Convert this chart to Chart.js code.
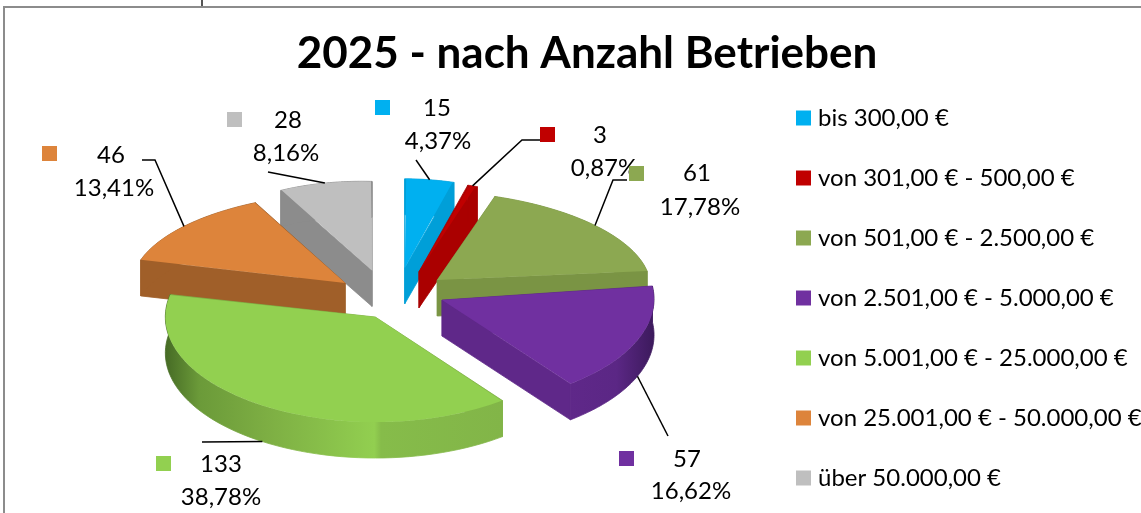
<!DOCTYPE html>
<html lang="de">
<head>
<meta charset="utf-8">
<title>2025 - nach Anzahl Betrieben</title>
<script src="https://cdn.jsdelivr.net/npm/chart.js@4/dist/chart.umd.min.js"></script>
<style>
  html, body { margin: 0; padding: 0; background: #fff; }
  #wrap { position: relative; width: 1141px; height: 513px; }
</style>
</head>
<body>
<div id="wrap"><canvas id="chart" width="1141" height="513"></canvas></div>
<script>
const categories = [
  "bis 300,00 €",
  "von 301,00 € - 500,00 €",
  "von 501,00 € - 2.500,00 €",
  "von 2.501,00 € - 5.000,00 €",
  "von 5.001,00 € - 25.000,00 €",
  "von 25.001,00 € - 50.000,00 €",
  "über 50.000,00 €",
];
const counts = [15, 3, 61, 57, 133, 46, 28];
const chartTitle = "2025 - nach Anzahl Betrieben";

const topColors = ["#00B0F0", "#C00000", "#8CA851", "#7030A0", "#92D050", "#DD843B", "#BFBFBF"];
const wallColors = ["#009FD8", "#AA0000", "#7A9444", "#5F2889", "#7FB045", "#A05F29", "#8C8C8C"];

// rim shading, stops run left to right across the slice
const rimStops = {
  3: [[0, "#5F2889"], [0.55, "#5B2785"], [1, "#3C1A5C"]],
  4: [[0, "#466B25"], [0.1, "#6B9A39"], [0.3, "#7DAE43"], [0.62, "#92CF50"], [0.64, "#86BC4A"], [1, "#82B548"]],
};

const fontName = "Lato, 'Liberation Sans', sans-serif";
const pieCentre = { x: 391, y: 298 };
const tilt = 0.5;
const depth = 36;
const pieRadius = 210;
const explode = 57;

// excel's perspective differs per slice: shift, then a/b scale and c/e shear in px
const sliceShift = [[6, -2], [11, 1], [2, 0], [-1.5, -9], [15, -5], [0, 2], [-4.5, 0]];
const sliceShape = [
  { a: 181, b: 89, c: 0, e: 1 },
  { a: 180, b: 90, c: 0, e: 0 },
  { a: 213, b: 89, c: -12, e: 2 },
  { a: 212, b: 106, c: 0, e: -1 },
  { a: 210, b: 105, c: 0, e: 0 },
  { a: 213, b: 90, c: 17, e: 4 },
  { a: 186, b: 89, c: 0, e: 5 },
];
const drawOrder = [6, 0, 1, 5, 2, 3, 4];

// callout layout: swatch, count text, percent text, leader line from label side
const callouts = [
  { box: [375, 100], n: [437, 108], p: [438, 141], line: [[416, 160]], front: false },
  { box: [540, 127], n: [600, 135], p: [604, 168], line: [[540, 140], [522, 140]], front: false },
  { box: [629, 166], n: [697, 173], p: [700, 207], line: [[627, 180], [613, 180]], front: false },
  { box: [619, 451], n: [687, 459], p: [691, 491], line: [[668, 436]], front: true },
  { box: [156, 456], n: [221, 464], p: [221, 497], line: [[202, 442]], front: true },
  { box: [42, 146], n: [111, 155], p: [114, 188], line: [[142, 160], [155, 160]], front: false },
  { box: [227, 112], n: [288, 120], p: [286, 153], line: [[268, 172]], front: false },
];

function sliceFrame(arc, i) {
  const off = arc.options.offset;
  const mid = (arc.startAngle + arc.endAngle) / 2;
  const s = sliceShape[i];
  // ArcElement.draw moves by offset/4 and widens the radius by a part of that
  const grow = 1 - Math.sin(Math.min(Math.PI, arc.circumference));
  const R = arc.outerRadius + (off / 4) * grow;
  return {
    R,
    apexX: pieCentre.x + Math.cos(mid) * off + sliceShift[i][0],
    apexY: pieCentre.y + Math.sin(mid) * off * tilt + sliceShift[i][1],
    ownX: arc.x + (Math.cos(mid) * off) / 4,
    ownY: arc.y + (Math.sin(mid) * off) / 4,
    A: s.a / R,
    B: s.b / R,
    C: -s.c / R,
    E: s.e / R,
  };
}

function rimPoint(f, t) {
  const u = f.R * Math.cos(t);
  const v = f.R * Math.sin(t);
  return [f.apexX + f.A * u + f.C * v, f.apexY + f.E * u + f.B * v];
}

function fillPoly(ctx, pts, fill) {
  ctx.beginPath();
  pts.forEach((p, k) => (k ? ctx.lineTo(p[0], p[1]) : ctx.moveTo(p[0], p[1])));
  ctx.closePath();
  ctx.fillStyle = fill;
  ctx.fill();
  // thin stroke closes the hairline seam under the slice top
  ctx.strokeStyle = fill;
  ctx.lineWidth = 0.8;
  ctx.stroke();
}

function drawWalls(ctx, arc, i) {
  const f = sliceFrame(arc, i);
  const apex = [f.apexX, f.apexY];
  [arc.startAngle, arc.endAngle].forEach((t) => {
    const r = rimPoint(f, t);
    fillPoly(ctx, [apex, r, [r[0], r[1] + depth], [apex[0], apex[1] + depth]], wallColors[i]);
  });
  const upper = [];
  for (let k = 0; k <= 60; k++) {
    upper.push(rimPoint(f, arc.startAngle + ((arc.endAngle - arc.startAngle) * k) / 60));
  }
  const lower = upper.map((p) => [p[0], p[1] + depth]).reverse();
  let fill = wallColors[i];
  if (rimStops[i]) {
    const xs = upper.map((p) => p[0]);
    const g = ctx.createLinearGradient(Math.min(...xs), 0, Math.max(...xs), 0);
    rimStops[i].forEach((st) => g.addColorStop(st[0], st[1]));
    fill = g;
  }
  fillPoly(ctx, upper.concat(lower), fill);
}

const tiltedPie = {
  id: "tiltedPie",
  beforeDatasetDraw(chart) {
    const ctx = chart.ctx;
    const arcs = chart.getDatasetMeta(0).data;
    drawOrder.forEach((i) => drawWalls(ctx, arcs[i], i));
    drawOrder.forEach((i) => {
      const f = sliceFrame(arcs[i], i);
      ctx.save();
      ctx.transform(
        f.A, f.E, f.C, f.B,
        f.apexX - (f.A * f.ownX + f.C * f.ownY),
        f.apexY - (f.E * f.ownX + f.B * f.ownY)
      );
      arcs[i].draw(ctx);
      ctx.restore();
    });
    return false;
  },
};

const callout = {
  id: "callout",
  afterDraw(chart) {
    const ctx = chart.ctx;
    const arcs = chart.getDatasetMeta(0).data;
    const total = counts.reduce((a, b) => a + b, 0);
    ctx.save();
    callouts.forEach((c, i) => {
      const f = sliceFrame(arcs[i], i);
      const end = rimPoint(f, (arcs[i].startAngle + arcs[i].endAngle) / 2);
      ctx.beginPath();
      c.line.forEach((p, k) => (k ? ctx.lineTo(p[0], p[1]) : ctx.moveTo(p[0], p[1])));
      ctx.lineTo(end[0], end[1] + (c.front ? depth : 0));
      ctx.strokeStyle = "#000";
      ctx.lineWidth = 1.5;
      ctx.stroke();

      ctx.fillStyle = topColors[i];
      ctx.fillRect(c.box[0], c.box[1], 15, 15);

      ctx.fillStyle = "#000";
      ctx.font = "24px " + fontName;
      ctx.textAlign = "center";
      ctx.textBaseline = "middle";
      ctx.fillText(String(counts[i]), c.n[0], c.n[1]);
      const pct = ((counts[i] / total) * 100).toFixed(2).replace(".", ",") + "%";
      ctx.fillText(pct, c.p[0], c.p[1]);
    });
    ctx.restore();
  },
};

const frame = {
  id: "frame",
  beforeDraw(chart) {
    const ctx = chart.ctx;
    ctx.save();
    ctx.fillStyle = "#8C8C8C";
    ctx.fillRect(3, 6, 1138, 2);
    ctx.fillRect(3, 6, 2, 507);
    ctx.fillStyle = "#555";
    ctx.fillRect(201, 0, 2, 6);
    ctx.restore();
  },
};

const placeBoxes = {
  id: "placeBoxes",
  afterLayout(chart) {
    // title keeps no padding so the legend still fits one column, it is moved here instead
    const t = chart.titleBlock;
    t.left = 2 * 587 - t.right;
    t.top = 30;
    t.bottom = t.top + t.height;
    const l = chart.legend;
    const pad = l.options.labels.padding;
    l.left = 801 - pad;
    l.right = 1141;
    l.top = 106 - pad;
    // draw() starts a new column past this line, keep it clear of the last row
    l.bottom = 600;
  },
};

new Chart(document.getElementById("chart"), {
  type: "pie",
  data: {
    labels: categories,
    datasets: [
      {
        data: counts,
        backgroundColor: topColors,
        borderWidth: 0,
        offset: explode,
        radius: pieRadius,
        clip: false,
      },
    ],
  },
  plugins: [frame, placeBoxes, tiltedPie, callout],
  options: {
    responsive: false,
    animation: false,
    layout: { padding: 0 },
    plugins: {
      tooltip: { enabled: false },
      title: {
        display: true,
        text: chartTitle,
        color: "#000",
        font: { family: fontName, size: 44, weight: "bold", lineHeight: 1.1 },
        padding: 0,
      },
      legend: {
        position: "right",
        align: "start",
        labels: {
          color: "#000",
          font: { family: fontName, size: 24 },
          usePointStyle: true,
          pointStyle: "rect",
          boxWidth: 5,
          boxHeight: 15,
          padding: 36,
        },
      },
    },
  },
});
</script>
</body>
</html>
